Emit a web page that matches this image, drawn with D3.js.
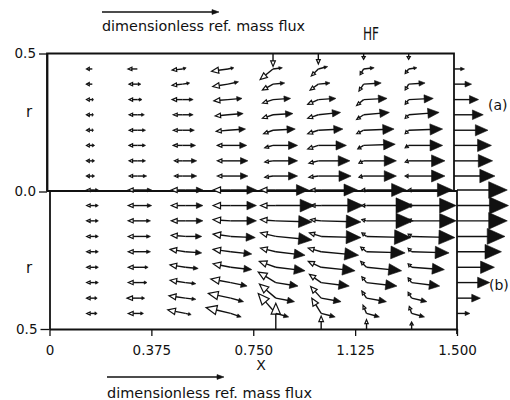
<!DOCTYPE html>
<html>
<head>
<meta charset="utf-8">
<script src="https://cdn.jsdelivr.net/npm/d3@7"></script>
<style>
  body { margin: 0; background: #fff; }
  svg { display: block; }
  text { font-family: "DejaVu Sans", sans-serif; fill: #111; }
</style>
</head>
<body>
<svg id="chart" width="510" height="400"></svg>
<script>
"use strict";

// grid of the vector plot: x = k/6, r = j/18
var colX = [0.167, 0.333, 0.5, 0.667, 0.833, 1.0, 1.167, 1.333];
var exitX = 1.5, wallR = 0.5;
var rowsA = [0.056, 0.111, 0.167, 0.222, 0.278, 0.333, 0.389, 0.444];        // (a): j = 1..8
var rowsB = [0, 0.056, 0.111, 0.167, 0.222, 0.278, 0.333, 0.389, 0.444];     // (b): j = 0..8

var xTicks = [0, 0.375, 0.75, 1.125, 1.5];
var xTickLabels = ["0", "0.375", "0.750", "1.125", "1.500"];
var refFlux = 1;   // "dimensionless ref. mass flux" arrow

// values in units of the reference flux; u = axial, v = radial (positive towards the wall)
// (a) open-head vectors, one array per column, rows j = 1..8
var aOpenU = [
	[-0.05, -0.05, -0.05, -0.05, -0.05, -0.05, -0.05, -0.05],
	[-0.07, -0.07, -0.07, -0.07, -0.07, -0.07, -0.07, -0.08],
	[-0.07, -0.07, -0.08, -0.08, -0.08, -0.09, -0.09, -0.09],
	[-0.09, -0.09, -0.09, -0.10, -0.11, -0.12, -0.13, -0.14],
	[-0.07, -0.07, -0.07, -0.08, -0.09, -0.09, -0.09, -0.11],
	[-0.08, -0.08, -0.09, -0.09, -0.09, -0.09, -0.07, -0.06],
	[-0.04, -0.04, -0.05, -0.06, -0.06, -0.06, -0.04, -0.03],
	[-0.03, -0.03, -0.03, -0.03, -0.03, -0.03, -0.03, -0.03]
];
var aOpenV = [
	[0, 0, 0, 0, 0, 0, 0, 0],
	[0, 0, 0, 0, 0, 0, 0, 0],
	[0, 0, 0, 0, 0, 0, -0.01, -0.01],
	[0, 0, 0, -0.01, -0.01, -0.01, -0.02, -0.02],
	[-0.01, -0.01, -0.02, -0.03, -0.03, -0.03, -0.05, -0.09],
	[-0.01, -0.02, -0.03, -0.03, -0.03, -0.04, -0.05, -0.06],
	[-0.01, -0.02, -0.03, -0.03, -0.04, -0.05, -0.06, -0.05],
	[0, -0.01, -0.02, -0.03, -0.03, -0.04, -0.05, -0.04]
];
// (a) filled-head vectors
var aFillU = [
	[0.02, 0.02, 0.02, 0.01, 0.01, 0.01, 0, 0],
	[0.08, 0.07, 0.07, 0.07, 0.06, 0.04, 0.03, 0],
	[0.12, 0.12, 0.11, 0.10, 0.09, 0.09, 0.06, 0.03],
	[0.17, 0.17, 0.16, 0.15, 0.13, 0.12, 0.09, 0.05],
	[0.21, 0.21, 0.21, 0.19, 0.17, 0.15, 0.10, 0.08],
	[0.28, 0.27, 0.24, 0.21, 0.19, 0.15, 0.10, 0.08],
	[0.28, 0.28, 0.27, 0.26, 0.22, 0.20, 0.15, 0.09],
	[0.31, 0.31, 0.29, 0.29, 0.26, 0.21, 0.14, 0.07]
];
var aFillV = [
	[0, 0, 0, 0, 0, 0, 0, 0],
	[0, 0, 0, 0, 0, 0, 0, 0],
	[0, 0, 0, 0, 0, 0, 0.01, 0.01],
	[0, 0, 0, 0.01, 0.01, 0.01, 0.02, 0.01],
	[0, 0, 0, 0.01, 0.01, 0.01, 0.01, 0.01],
	[0, 0, 0, 0.01, 0.02, 0.01, 0.01, 0.02],
	[0, 0, 0.01, 0.01, 0.02, 0.01, 0.01, 0.01],
	[0, 0, 0, 0.01, 0.02, 0.01, 0.01, 0.01]
];
var aExitU = [0.35, 0.33, 0.32, 0.29, 0.25, 0.21, 0.15, 0.09];
var aWallV = [0, 0, 0, 0, -0.11, -0.09, -0.05, -0.05];

// (b) rows j = 0..8
var bOpenU = [
	[-0.07, -0.07, -0.07, -0.07, -0.07, -0.07, -0.07, -0.07, -0.07],
	[-0.10, -0.10, -0.10, -0.10, -0.10, -0.10, -0.10, -0.11, -0.10],
	[-0.12, -0.12, -0.12, -0.12, -0.13, -0.13, -0.13, -0.14, -0.15],
	[-0.15, -0.15, -0.15, -0.15, -0.15, -0.15, -0.17, -0.19, -0.21],
	[-0.13, -0.13, -0.13, -0.13, -0.13, -0.14, -0.15, -0.14, -0.15],
	[-0.09, -0.09, -0.09, -0.10, -0.11, -0.11, -0.10, -0.09, -0.08],
	[-0.04, -0.04, -0.04, -0.04, -0.05, -0.05, -0.04, -0.04, -0.03],
	[-0.03, -0.03, -0.03, -0.03, -0.03, -0.03, -0.03, -0.03, -0.02]
];
var bOpenV = [
	[0, 0, 0, 0, 0, 0, 0, 0, 0],
	[0, 0, 0, 0, 0, 0, 0, 0, 0],
	[0, 0, 0, -0.01, -0.02, -0.02, -0.02, -0.02, -0.03],
	[0, 0, -0.01, -0.02, -0.02, -0.03, -0.03, -0.04, -0.05],
	[0, 0, -0.01, -0.03, -0.03, -0.05, -0.09, -0.12, -0.17],
	[0, 0, -0.01, -0.03, -0.03, -0.05, -0.07, -0.10, -0.13],
	[0, 0, -0.01, -0.03, -0.04, -0.05, -0.05, -0.06, -0.07],
	[0, 0, -0.01, -0.02, -0.03, -0.03, -0.04, -0.05, -0.06]
];
var bFillU = [
	[0.03, 0.03, 0.03, 0.03, 0.03, 0.03, 0.03, 0.02, 0.02],
	[0.10, 0.10, 0.09, 0.09, 0.09, 0.07, 0.06, 0.04, 0.03],
	[0.15, 0.15, 0.15, 0.14, 0.14, 0.11, 0.09, 0.09, 0.05],
	[0.22, 0.22, 0.22, 0.21, 0.18, 0.18, 0.14, 0.11, 0.09],
	[0.28, 0.33, 0.31, 0.31, 0.25, 0.25, 0.19, 0.16, 0.11],
	[0.31, 0.36, 0.34, 0.34, 0.32, 0.29, 0.24, 0.17, 0.12],
	[0.34, 0.40, 0.40, 0.38, 0.33, 0.30, 0.26, 0.17, 0.11],
	[0.35, 0.38, 0.38, 0.37, 0.32, 0.28, 0.24, 0.13, 0.11]
];
var bFillV = [
	[0, 0, 0, 0, 0, 0, 0, 0, 0],
	[0, 0, 0, 0, 0, 0, 0, 0, 0],
	[0, 0, 0, 0, 0.01, 0.01, 0.01, 0.01, 0.01],
	[0, 0, 0, 0.01, 0.02, 0.02, 0.03, 0.03, 0.03],
	[0, 0, 0.01, 0.03, 0.03, 0.03, 0.03, 0.03, 0.03],
	[0, 0, 0.01, 0.01, 0.03, 0.03, 0.03, 0.03, 0.03],
	[0, 0, 0, 0.01, 0.01, 0.03, 0.03, 0.03, 0.03],
	[0, 0, 0, 0.01, 0.01, 0.02, 0.03, 0.03, 0.03]
];
var bExitU = [0.43, 0.44, 0.43, 0.41, 0.38, 0.32, 0.28, 0.20, 0.11];
var bWallV = [0, 0, 0, 0, -0.22, -0.11, -0.08, -0.06];

var svg = d3.select("#chart");

// two half-plots, pasted together (a) above (b)
var xa = d3.scaleLinear().domain([0, 1.5]).range([47, 454]);
var ya = d3.scaleLinear().domain([0, 0.5]).range([191.5, 53.5]);
var xb = d3.scaleLinear().domain([0, 1.5]).range([49.5, 457]);
var yb = d3.scaleLinear().domain([0, 0.5]).range([190, 329]);
var flux = d3.scaleLinear().domain([0, 1]).range([0, 117]);

var ink = "#111";

// build vector list for a panel
function vectors(xs, ys, rows, openU, openV, fillU, fillV, exitU, wallV) {
	var list = [];
	colX.forEach(function (x, i) {
		rows.forEach(function (r, j) {
			list.push({ x: x, r: r, u: openU[i][j], v: openV[i][j], open: true, xs: xs, ys: ys });
			list.push({ x: x, r: r, u: fillU[i][j], v: fillV[i][j], open: false, xs: xs, ys: ys });
		});
		if (wallV[i] != 0)
			list.push({ x: x, r: wallR, u: 0, v: wallV[i], open: true, xs: xs, ys: ys });
	});
	rows.forEach(function (r, j) {
		list.push({ x: exitX, r: r, u: exitU[j], v: 0, open: false, xs: xs, ys: ys });
	});
	return list;
}

var all = vectors(xa, ya, rowsA, aOpenU, aOpenV, aFillU, aFillV, aExitU, aWallV)
	.concat(vectors(xb, yb, rowsB, bOpenU, bOpenV, bFillU, bFillV, bExitU, bWallV));

function drawArrow(g, x0, y0, dx, dy, open, hl, hw) {
	var L = Math.sqrt(dx * dx + dy * dy);
	if (L < 0.6) return;
	var ux = dx / L, uy = dy / L;
	hl = Math.min(hl, L);
	var tx = x0 + dx, ty = y0 + dy;
	var bx = tx - ux * hl, by = ty - uy * hl;
	var lx = open ? bx : tx - ux * hl * 0.5, ly = open ? by : ty - uy * hl * 0.5;
	g.append("line")
		.attr("x1", x0).attr("y1", y0).attr("x2", lx).attr("y2", ly)
		.attr("stroke", ink).attr("stroke-width", 1.4);
	var pts = [[tx, ty], [bx - uy * hw, by + ux * hw], [bx + uy * hw, by - ux * hw]];
	g.append("polygon")
		.attr("points", pts.map(function (p) { return p[0].toFixed(2) + "," + p[1].toFixed(2); }).join(" "))
		.attr("fill", open ? "#fff" : ink)
		.attr("stroke", ink).attr("stroke-width", open ? 1.2 : 0.6)
		.attr("stroke-linejoin", "miter");
}

function drawVector(g, d) {
	var x0 = d.xs(d.x), y0 = d.ys(d.r);
	var rdir = d.ys(1) > d.ys(0) ? 1 : -1;   // screen direction of increasing r
	var dx = flux(d.u), dy = flux(d.v) * rdir;
	var L = Math.sqrt(dx * dx + dy * dy);
	if (d.open)
		drawArrow(g, x0, y0, dx, dy, true, Math.max(2.8, 0.42 * L), Math.max(1.6, 0.18 * L));
	else
		drawArrow(g, x0, y0, dx, dy, false, Math.max(2.8, 0.37 * L), Math.max(1.6, 0.165 * L));
}

// frames
var frame = svg.append("g").attr("fill", "none").attr("stroke", ink).attr("stroke-width", 1.8);
frame.append("path").attr("d", "M" + xa(0) + "," + ya(0) + "V" + ya(0.5) + "H" + xa(1.5) + "V" + ya(0));
frame.append("path").attr("d", "M" + xb(1.5) + "," + yb(0) + "V" + (yb(0.5) + 5));
frame.append("line").attr("x1", xa(0)).attr("x2", xb(1.5)).attr("y1", 191).attr("y2", 191);

// axes
var xAxis = svg.append("g").attr("transform", "translate(0," + yb(0.5) + ")")
	.call(d3.axisBottom(xb).tickValues(xTicks)
		.tickFormat(function (d, i) { return xTickLabels[i]; })
		.tickSize(7).tickSizeOuter(0).tickPadding(9));
var yAxisA = svg.append("g").attr("transform", "translate(" + xa(0) + ",0)")
	.call(d3.axisLeft(ya).tickValues([0.5, 0]).tickFormat(d3.format(".1f"))
		.tickSize(8).tickSizeOuter(0).tickPadding(3));
var yAxisB = svg.append("g").attr("transform", "translate(" + xb(0) + ",0)")
	.call(d3.axisLeft(yb).tickValues([0.5]).tickFormat(d3.format(".1f"))
		.tickSize(9).tickSizeOuter(0).tickPadding(3));
[xAxis, yAxisA, yAxisB].forEach(function (ax) {
	ax.attr("font-family", "DejaVu Sans, sans-serif").attr("font-size", 13.5);
	ax.select(".domain").attr("stroke", ink).attr("stroke-width", 1.8);
	ax.selectAll(".tick line").attr("stroke", ink).attr("stroke-width", 1.3);
	ax.selectAll(".tick text").attr("fill", ink);
});

// vectors: open heads first, then filled
var vg = svg.append("g");
all.filter(function (d) { return d.open; }).forEach(function (d) { drawVector(vg, d); });
all.filter(function (d) { return !d.open; }).forEach(function (d) { drawVector(vg, d); });

// reference arrows + captions
var refLen = flux(refFlux);
drawArrow(svg, 102, 12, refLen, 0, false, 7, 2.4);
drawArrow(svg, 107, 377, refLen, 0, false, 7, 2.4);
svg.append("text").attr("x", 102).attr("y", 31).attr("font-size", 13.5)
	.attr("textLength", 203).attr("lengthAdjust", "spacingAndGlyphs")
	.text("dimensionless ref. mass flux");
svg.append("text").attr("x", 107).attr("y", 398).attr("font-size", 13.5)
	.attr("textLength", 205).attr("lengthAdjust", "spacingAndGlyphs")
	.text("dimensionless ref. mass flux");

svg.append("text").attr("x", 363).attr("y", 40).attr("font-size", 17)
	.attr("textLength", 16).attr("lengthAdjust", "spacingAndGlyphs").text("HF");
svg.append("text").attr("x", 488).attr("y", 110).attr("font-size", 14).text("(a)");
svg.append("text").attr("x", 489).attr("y", 290).attr("font-size", 14).text("(b)");
svg.append("text").attr("x", 29).attr("y", 117).attr("font-size", 15).attr("text-anchor", "middle").text("r");
svg.append("text").attr("x", 29).attr("y", 273).attr("font-size", 15).attr("text-anchor", "middle").text("r");
svg.append("text").attr("x", 261).attr("y", 370).attr("font-size", 14).attr("text-anchor", "middle").text("X");
</script>
</body>
</html>
